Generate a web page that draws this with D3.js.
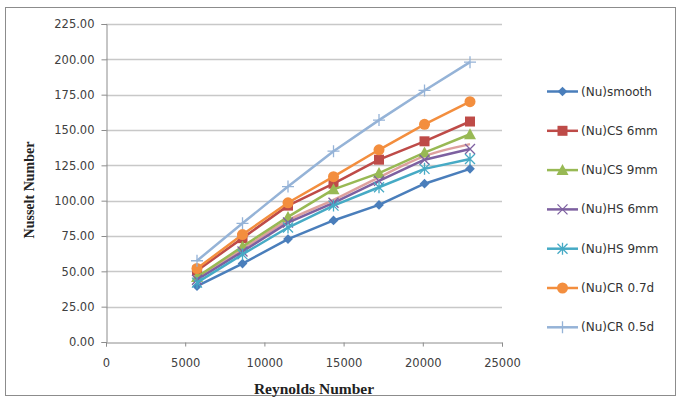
<!DOCTYPE html>
<html><head><meta charset="utf-8">
<script src="https://cdn.jsdelivr.net/npm/d3@7"></script>
<style>body{margin:0;background:#fff}svg{display:block}</style>
</head><body>
<script>
const reynolds = [5745, 8618, 11490, 14363, 17235, 20108, 22980];
const nuSmooth = [39.5, 55.5, 72.8, 86.0, 97.0, 112.0, 122.5];
const nuCS6 = [50.5, 73.5, 96.5, 112.0, 129.0, 142.0, 156.0];
const nuCS9 = [46.0, 67.5, 88.5, 108.0, 119.5, 134.0, 147.0];
const nuHS6 = [44.0, 64.0, 84.5, 98.5, 114.0, 129.0, 136.5];
const nuHS9 = [42.0, 62.0, 81.0, 96.5, 109.5, 122.5, 129.5];
const nuCR07 = [52.0, 76.0, 98.5, 117.0, 136.0, 154.0, 170.0];
const nuCR05 = [57.5, 84.0, 110.0, 135.0, 157.0, 178.0, 198.0];
const nuTrend = [45.0, 65.5, 86.0, 100.5, 116.5, 131.5, 140.0];
const seriesNames = ["(Nu)smooth","(Nu)CS 6mm","(Nu)CS 9mm","(Nu)HS 6mm","(Nu)HS 9mm","(Nu)CR 0.7d","(Nu)CR 0.5d"];
const yTicks = [0,25,50,75,100,125,150,175,200,225];
const xTicks = [0,5000,10000,15000,20000,25000];

const W = 679, H = 403;
const plot = {l:106, r:502, t:24, b:342};
const svg = d3.select("body").append("svg").attr("width",W).attr("height",H);
svg.append("rect").attr("x",5.5).attr("y",7.5).attr("width",670).attr("height",388)
  .attr("fill","#fff").attr("stroke","#8c8c8c").attr("stroke-width",1);

const x = d3.scaleLinear().domain([0,25000]).range([plot.l,plot.r]);
const y = d3.scaleLinear().domain([0,225]).range([plot.b,plot.t]);

// gridlines
svg.append("g").selectAll("line").data(yTicks.filter(d=>d>0)).join("line")
  .attr("x1",plot.l).attr("x2",plot.r).attr("y1",d=>Math.round(y(d))+0.5).attr("y2",d=>Math.round(y(d))+0.5)
  .attr("stroke","#c8c8c8").attr("stroke-width",1.3);

const font = "DejaVu Sans, Verdana, sans-serif";
const yAxis = svg.append("g").attr("transform",`translate(${plot.l+0.5},0)`)
  .call(d3.axisLeft(y).tickValues(yTicks).tickFormat(d=>d.toFixed(2)).tickSize(5).tickPadding(7));
const xAxis = svg.append("g").attr("transform",`translate(0,${Math.round(plot.b)+0.5})`)
  .call(d3.axisBottom(x).tickValues(xTicks).tickFormat(d3.format("d")).tickSize(4).tickPadding(12));
[yAxis,xAxis].forEach(a=>{
  a.selectAll("path,line").attr("stroke","#8c8c8c");
  a.selectAll("text").attr("font-family",font).attr("font-size","11.5px").attr("fill","#404040");
});

svg.append("text").attr("transform","translate(34,190) rotate(-90)").attr("text-anchor","middle")
  .attr("font-family","Liberation Serif, Times New Roman, serif").attr("font-weight","bold").attr("font-size","14px")
  .attr("fill","#222").text("Nusselt Number");
svg.append("text").attr("x",314).attr("y",394).attr("text-anchor","middle")
  .attr("font-family","Liberation Serif, Times New Roman, serif").attr("font-weight","bold").attr("font-size","15.5px")
  .attr("fill","#222").text("Reynolds Number");

const series = [
  {name:seriesNames[0], vals:nuSmooth, color:"#4A7EBB", marker:"diamond"},
  {name:seriesNames[1], vals:nuCS6, color:"#BE4B48", marker:"square"},
  {name:seriesNames[2], vals:nuCS9, color:"#98B954", marker:"triangle"},
  {name:seriesNames[3], vals:nuHS6, color:"#7D60A0", marker:"x"},
  {name:seriesNames[4], vals:nuHS9, color:"#46AAC5", marker:"star"},
  {name:seriesNames[5], vals:nuCR07, color:"#F38E3E", marker:"circle"},
  {name:seriesNames[6], vals:nuCR05, color:"#95B3D7", marker:"plus"}
];

function drawMarker(g, type, color, cx, cy){
  const s = g.append("g").attr("transform",`translate(${cx},${cy})`);
  if(type==="diamond") s.append("path").attr("d",d3.symbol(d3.symbolDiamond2,60)()).attr("fill",color);
  else if(type==="square") s.append("rect").attr("x",-5).attr("y",-5).attr("width",10).attr("height",10).attr("fill",color);
  else if(type==="triangle") s.append("path").attr("d","M0,-6L6,5L-6,5Z").attr("fill",color);
  else if(type==="circle") s.append("circle").attr("r",5.5).attr("fill",color);
  else if(type==="x") s.append("path").attr("d","M-5,-5L5,5M-5,5L5,-5").attr("stroke",color).attr("stroke-width",1.3);
  else if(type==="star") s.append("path").attr("d","M-5,-5L5,5M-5,5L5,-5M0,-6L0,6").attr("stroke",color).attr("stroke-width",1.3);
  else if(type==="plus") s.append("path").attr("d","M-6,0L6,0M0,-6L0,6").attr("stroke",color).attr("stroke-width",1.3);
}

const line = d3.line().x((d,i)=>x(reynolds[i])).y(d=>y(d));
const plotG = svg.append("g");

// light trend-like curve
plotG.append("path").attr("d",d3.line().x((d,i)=>x(reynolds[i])).y(d=>y(d)).curve(d3.curveCatmullRom)(nuTrend))
  .attr("fill","none").attr("stroke","#D99694").attr("stroke-width",2.5).attr("opacity",0.9);

series.forEach(s=>{
  plotG.append("path").attr("d",line(s.vals)).attr("fill","none").attr("stroke",s.color).attr("stroke-width",2.5)
    .attr("stroke-linejoin","round");
  s.vals.forEach((v,i)=>drawMarker(plotG,s.marker,s.color,x(reynolds[i]),y(v)));
});

// legend
const lg = svg.append("g");
series.forEach((s,i)=>{
  const yy = 91.5 + i*39.3;
  lg.append("line").attr("x1",547).attr("x2",578).attr("y1",yy).attr("y2",yy).attr("stroke",s.color).attr("stroke-width",2.5);
  drawMarker(lg,s.marker,s.color,562.5,yy);
  lg.append("text").attr("x",581).attr("y",yy+4).attr("font-family",font).attr("font-size","12px")
    .attr("fill","#333").text(s.name);
});
</script>
</body></html>
